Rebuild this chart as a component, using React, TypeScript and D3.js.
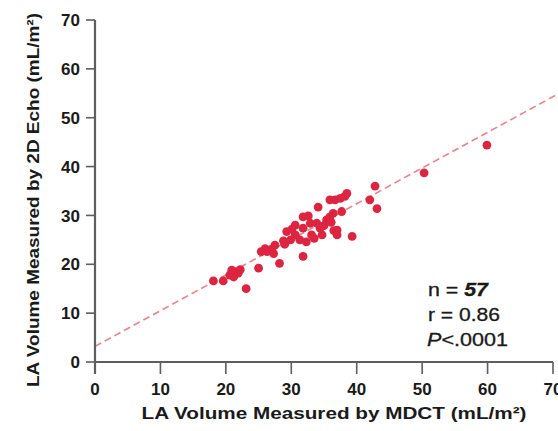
import React from "react";
import * as d3 from "d3";

const mdct: number[] = [
  18.1, 19.6, 20.6, 21.4, 21.9, 20.9, 23.1, 25.0, 25.4, 26.3,
  27.0, 27.5, 27.3, 28.2, 28.8, 29.3, 30.6, 30.6, 29.9, 31.8,
  31.8, 31.3, 31.8, 32.9, 33.1, 34.1, 33.9, 34.4, 34.7, 35.4,
  35.9, 36.4, 37.0, 37.0, 35.9, 36.7, 37.5, 38.5, 37.7, 39.3,
  42.8, 42.0, 43.1, 50.3, 59.9, 21.2, 22.2, 26.0, 32.3, 33.5,
  35.0, 36.1, 30.1, 29.0, 36.5, 32.6, 38.2,
];
const echo: number[] = [
  16.6, 16.6, 17.8, 18.5, 18.2, 18.8, 15.0, 19.2, 22.6, 22.6,
  23.1, 23.9, 22.2, 20.2, 24.8, 26.7, 28.0, 26.0, 25.0, 29.7,
  27.4, 25.0, 21.6, 28.4, 26.0, 31.7, 28.4, 27.4, 26.0, 29.1,
  29.7, 30.4, 27.0, 26.0, 33.2, 33.2, 33.5, 34.5, 30.8, 25.7,
  36.0, 33.2, 31.4, 38.7, 44.4, 17.4, 18.9, 23.2, 24.6, 25.3,
  27.9, 28.6, 27.2, 24.1, 26.9, 29.9, 33.9,
];
const xTicks: number[] = [0, 10, 20, 30, 40, 50, 60, 70];
const yTicks: number[] = [0, 10, 20, 30, 40, 50, 60, 70];
const fitIntercept = 3.2;
const fitSlope = 0.73;
const statN = "57";
const statR = "0.86";
const statP = "<.0001";

export default function App() {
  const W = 558;
  const H = 431;
  const x = d3.scaleLinear().domain([0, 70]).range([95, 553]);
  const y = d3.scaleLinear().domain([0, 70]).range([362, 20]);
  const xEnd = x.invert(W);
  const lineGen = d3
    .line<number>()
    .x((d) => x(d))
    .y((d) => y(fitIntercept + fitSlope * d));
  const font = "'Liberation Sans', Arial, Helvetica, sans-serif";
  const axisColor = "#5e5e5e";
  const textColor = "#1a1a1a";
  return (
    <svg
      width={W}
      height={H}
      style={{ position: "absolute", left: 0, top: 0, background: "#fff" }}
      fontFamily={font}
    >
      <path
        d={lineGen([0, xEnd]) || ""}
        fill="none"
        stroke="#e7838c"
        strokeWidth={1.6}
        strokeDasharray="7,4"
      />
      {mdct.map((v, i) => (
        <circle key={i} cx={x(v)} cy={y(echo[i])} r={4.4} fill="#dc2540" />
      ))}
      {/* axes */}
      <line x1={x(0)} x2={x(0)} y1={y(70)} y2={y(0) + 12} stroke={axisColor} strokeWidth={2.2} />
      <line x1={x(0)} x2={x(70)} y1={y(0)} y2={y(0)} stroke={axisColor} strokeWidth={2.2} />
      {yTicks.map((t) => (
        <g key={"y" + t}>
          <line x1={x(0) - 9} x2={x(0)} y1={y(t)} y2={y(t)} stroke={axisColor} strokeWidth={1.6} />
          <text
            x={80}
            y={y(t)}
            dy="0.36em"
            textAnchor="end"
            fontSize={17}
            fontWeight="bold"
            fill={textColor}
          >
            {t}
          </text>
        </g>
      ))}
      {xTicks.map((t) => (
        <g key={"x" + t}>
          <line x1={x(t)} x2={x(t)} y1={y(0)} y2={y(0) + 12} stroke={axisColor} strokeWidth={1.6} />
          <text
            x={x(t)}
            y={395}
            textAnchor="middle"
            fontSize={17}
            fontWeight="bold"
            fill={textColor}
          >
            {t}
          </text>
        </g>
      ))}
      <text
        x={334}
        y={419}
        textAnchor="middle"
        fontSize={16}
        fontWeight="bold"
        fill={textColor}
        textLength={385}
        lengthAdjust="spacingAndGlyphs"
      >
        LA Volume Measured by MDCT (mL/m²)
      </text>
      <text
        transform="translate(39,200) rotate(-90)"
        textAnchor="middle"
        fontSize={16}
        fontWeight="bold"
        fill={textColor}
        textLength={374}
        lengthAdjust="spacingAndGlyphs"
      >
        LA Volume Measured by 2D Echo (mL/m²)
      </text>
      <g fontSize={18} fill={textColor} stroke={textColor} strokeWidth={0.3}>
        <text x={428} y={296} textLength={60} lengthAdjust="spacingAndGlyphs">
          n = <tspan fontWeight="bold" fontStyle="italic">{statN}</tspan>
        </text>
        <text x={428} y={321} textLength={72} lengthAdjust="spacingAndGlyphs">
          r = {statR}
        </text>
        <text x={427} y={346} textLength={81} lengthAdjust="spacingAndGlyphs">
          <tspan fontStyle="italic">P</tspan>
          {statP}
        </text>
      </g>
    </svg>
  );
}
